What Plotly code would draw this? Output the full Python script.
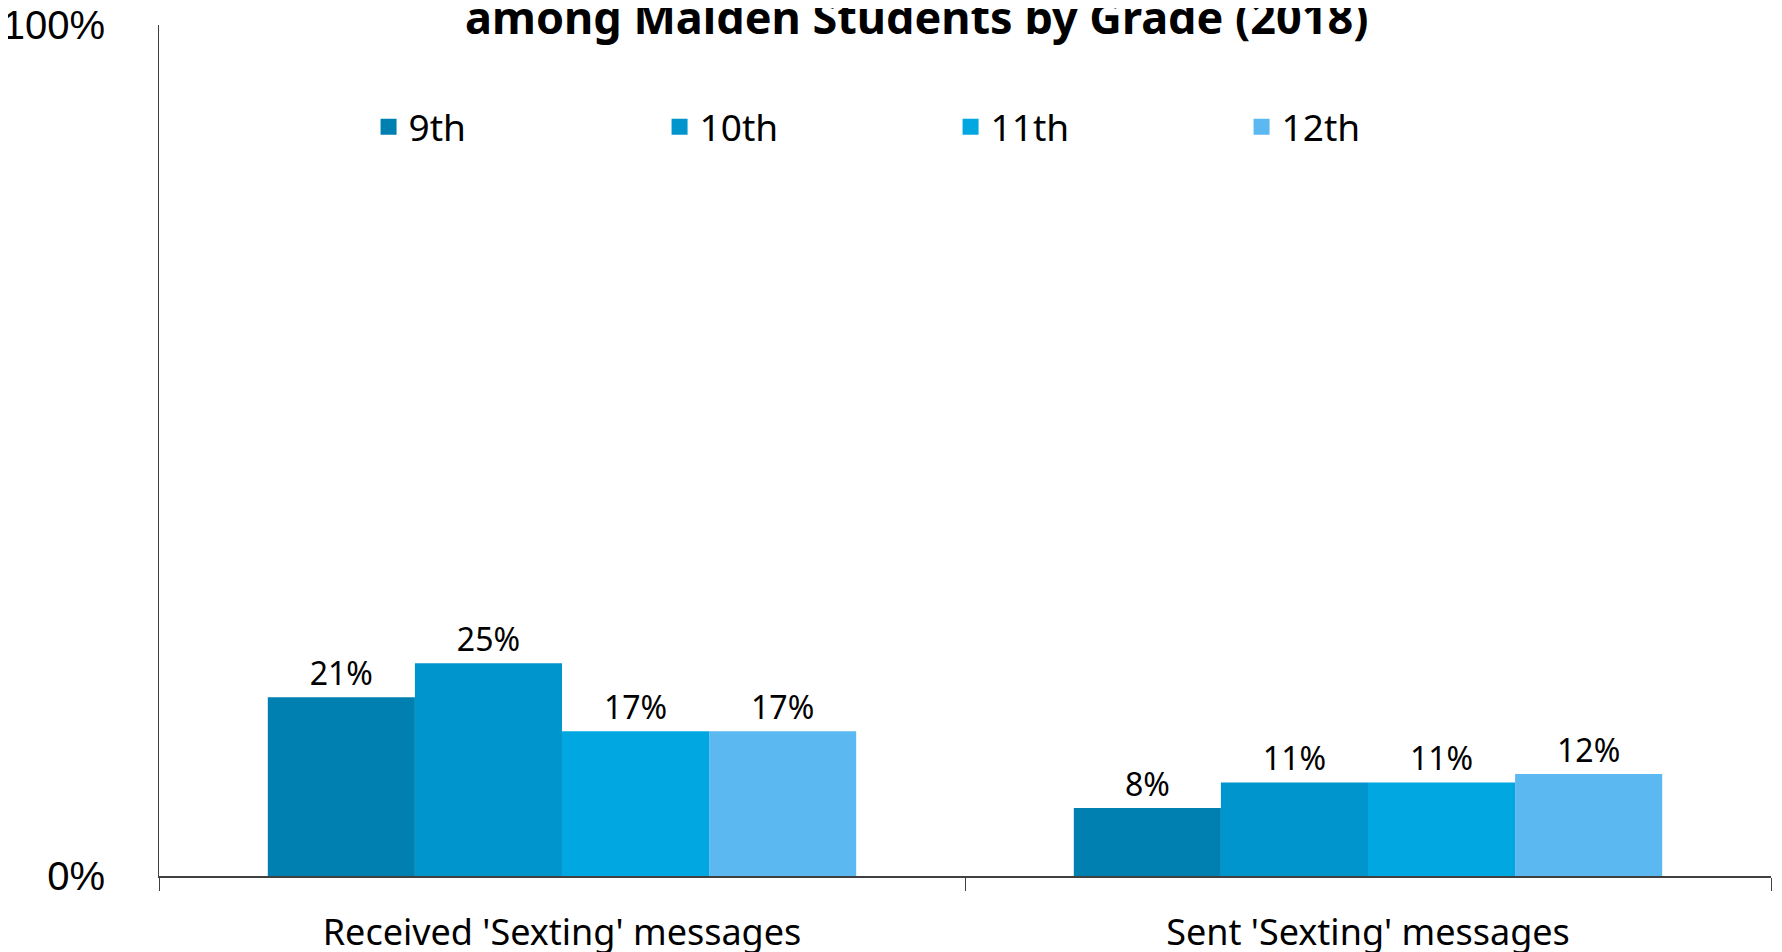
import plotly.graph_objects as go

categories = ["Received 'Sexting' messages", "Sent 'Sexting' messages"]
grades = ["9th", "10th", "11th", "12th"]
values = {
    "9th": [21, 8],
    "10th": [25, 11],
    "11th": [17, 11],
    "12th": [17, 12],
}
colors = ["#007FB1", "#0095CD", "#00A7E1", "#5BB8F0"]

FONT = "Noto Sans"

fig = go.Figure()
for g, c in zip(grades, colors):
    fig.add_trace(go.Bar(
        name=g, x=categories, y=values[g], legendgroup=g, showlegend=False,
        marker=dict(color=c, line=dict(width=0)),
        text=[f"{v}%" for v in values[g]],
        textposition="outside",
        textfont=dict(family=FONT, size=32, color="#000000"),
        cliponaxis=False,
    ))
# bigger square legend swatches
for g, c in zip(grades, colors):
    fig.add_trace(go.Scatter(
        name=g, x=[None], y=[None], mode="markers", legendgroup=g,
        marker=dict(symbol="square", size=16, color=c),
    ))

# page body has an 8px margin, margins are shifted to compensate
fig.update_layout(
    width=1782, height=952,
    barmode="group", bargap=0.27, bargroupgap=0,
    plot_bgcolor="white", paper_bgcolor="white",
    margin=dict(l=151, r=19, t=17, b=84, autoexpand=False),
    font=dict(family=FONT, color="#000000"),
    title=dict(
        text="<b>among Malden Students by Grade (2018)</b>",
        x=0.51, xanchor="center", y=0.9725, yanchor="bottom",
        font=dict(family=FONT, size=45, color="#000000"),
    ),
    legend=dict(
        orientation="h", x=0.13, xanchor="left", y=0.88, yanchor="middle",
        font=dict(family=FONT, size=37), entrywidth=246, entrywidthmode="pixels",
        bgcolor="rgba(0,0,0,0)", traceorder="normal", itemsizing="trace",
    ),
    showlegend=True,
)
fig.update_xaxes(
    showline=True, linecolor="#404040", linewidth=1.5,
    ticks="outside", tickson="boundaries", ticklen=13, tickcolor="#404040",
    tickfont=dict(family=FONT, size=36), showgrid=False,
    automargin=False, ticklabelstandoff=24,
)
fig.update_yaxes(
    range=[0, 100], tickvals=[0, 100], ticktext=["0%", "100%"],
    showline=True, linecolor="#404040", linewidth=1,
    showgrid=False, zeroline=False, ticks="",
    ticklabelstandoff=45, ticklabeloverflow="allow", automargin=False,
    tickfont=dict(family="Liberation Sans", size=40),
)

fig.write_html("out.html")
